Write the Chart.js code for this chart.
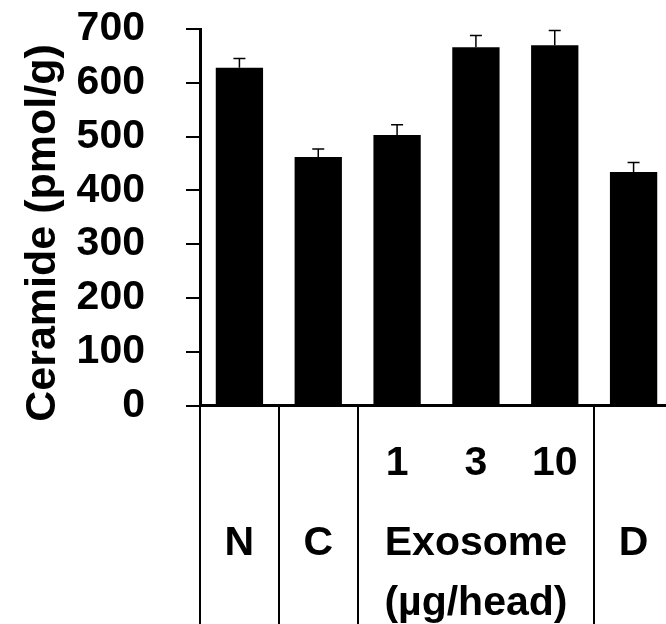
<!DOCTYPE html>
<html lang="en">
<head>
    <meta charset="UTF-8">
    <title>Ceramide</title>
    <script src="https://cdn.jsdelivr.net/npm/chart.js"></script>
    <style>
        html, body { margin: 0; padding: 0; background: #fff; overflow: hidden; }
        .wrap { width: 673px; height: 624px; }
    </style>
</head>
<body>
    <div class="wrap"><canvas id="ceramideChart"></canvas></div>

    <script>
        // groups and measured ceramide (mean, SEM)
        const groups = ['N', 'C', '1', '3', '10', 'D'];
        const ceramide = [628, 462, 503, 666, 670, 434];
        const sem = [17, 15, 19, 22, 27, 18];

        // label rows under the axis
        const doseRow = ['', '', '1', '3', '10', ''];
        const groupRow = ['N', 'C', '', 'Exosome', '', 'D'];
        const unitRow = ['', '', '', '(µg/head)', '', ''];

        const yTicks = [0, 100, 200, 300, 400, 500, 600, 700];
        const yTitle = 'Ceramide (pmol/g)';

        // grid boundaries (between categories) that get a divider line
        const dividers = [0, 1, 2, 5, 6];

        const FONT = '"Liberation Sans", Arial, sans-serif';

        // one label per category: dose on row 0, group on row 4, unit on row 7
        const xLabels = groups.map((g, i) =>
            [doseRow[i], '', '', '', groupRow[i], '', '', unitRow[i]]);

        // upper error bars + rotated y title
        const extras = {
            id: 'extras',
            afterDatasetsDraw(chart) {
                const ctx = chart.ctx;
                const meta = chart.getDatasetMeta(0);
                const y = chart.scales.y;
                ctx.save();
                ctx.strokeStyle = '#000';
                ctx.lineWidth = 1.5;
                meta.data.forEach((bar, i) => {
                    const top = y.getPixelForValue(ceramide[i]);
                    const cap = y.getPixelForValue(ceramide[i] + sem[i]);
                    ctx.beginPath();
                    ctx.moveTo(bar.x, top);
                    ctx.lineTo(bar.x, cap);
                    ctx.moveTo(bar.x - 6, cap);
                    ctx.lineTo(bar.x + 6, cap);
                    ctx.stroke();
                });
                ctx.restore();
            },
            afterDraw(chart) {
                const ctx = chart.ctx;
                ctx.save();
                ctx.translate(55, 233);
                ctx.rotate(-Math.PI / 2);
                ctx.font = 'bold 43px ' + FONT;
                ctx.fillStyle = '#000';
                ctx.textAlign = 'center';
                ctx.textBaseline = 'alphabetic';
                ctx.fillText(yTitle, 0, 0);
                ctx.restore();
            }
        };

        new Chart(document.getElementById('ceramideChart'), {
            type: 'bar',
            data: {
                labels: xLabels,
                datasets: [{
                    data: ceramide,
                    backgroundColor: '#000',
                    borderWidth: 0,
                    barPercentage: 0.6,
                    categoryPercentage: 1
                }]
            },
            options: {
                responsive: true,
                maintainAspectRatio: false,
                animation: false,
                layout: { padding: { top: 29, left: 0, right: 0, bottom: 0 } },
                plugins: {
                    legend: { display: false },
                    tooltip: { enabled: false }
                },
                scales: {
                    x: {
                        afterFit(scale) {
                            scale.height = 218.5;
                            scale.paddingLeft = 0;
                            scale.paddingRight = 0;
                        },
                        grid: {
                            offset: true,
                            drawOnChartArea: false,
                            drawTicks: true,
                            tickLength: 219,
                            lineWidth: 2,
                            color: ctx => dividers.includes(ctx.index) ? '#000' : 'rgba(0,0,0,0)'
                        },
                        border: { display: true, color: '#000', width: 3 },
                        ticks: {
                            autoSkip: false,
                            maxRotation: 0,
                            minRotation: 0,
                            padding: -170.5,
                            color: '#000',
                            font: { family: FONT, size: 41, weight: 'bold', lineHeight: '20px' }
                        }
                    },
                    y: {
                        min: 0,
                        max: 700,
                        afterFit(scale) {
                            scale.width = 200;
                            scale.paddingTop = 0;
                            scale.paddingBottom = 0;
                        },
                        afterBuildTicks(scale) {
                            scale.ticks = yTicks.map(v => ({ value: v }));
                        },
                        grid: {
                            drawOnChartArea: false,
                            drawTicks: true,
                            tickLength: 14,
                            lineWidth: 2,
                            color: '#000'
                        },
                        border: { display: true, color: '#000', width: 3 },
                        ticks: {
                            autoSkip: false,
                            padding: 41,
                            color: '#000',
                            font: { family: FONT, size: 41, weight: 'bold' }
                        }
                    }
                }
            },
            plugins: [extras]
        });
    </script>
</body>
</html>
